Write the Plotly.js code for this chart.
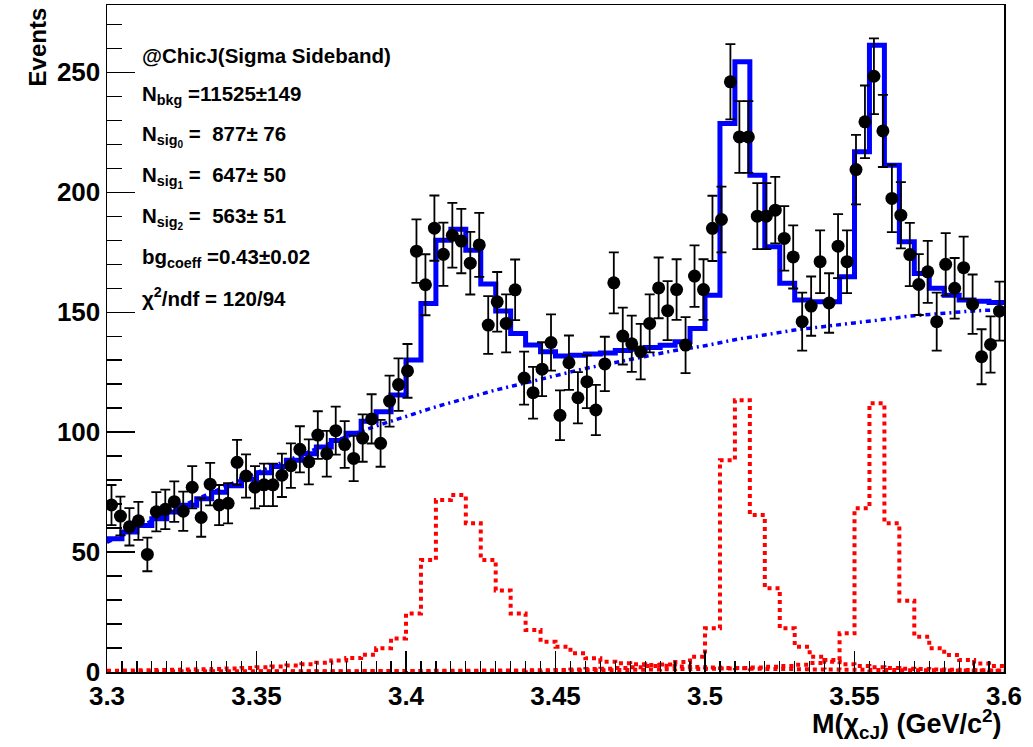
<!DOCTYPE html>
<html>
<head>
<meta charset="utf-8">
<script src="https://cdn.plot.ly/plotly-3.0.1.min.js"></script>
<style>html,body{margin:0;padding:0;background:#fff;}#chart{width:1033px;height:747px;}</style>
</head>
<body>
<div id="chart"></div>
<script>
// ---- Data ----
// Data histogram: 100 bins of 0.003 GeV from 3.3 to 3.6
const dataMin = 3.3, dataBinWidth = 0.003;
const dataCounts = [
  69.6, 65, 60.5, 63, 49, 66.8, 67.8, 71, 67, 77,
  64.4, 78.3, 69.6, 70.3, 87.4, 81.7, 77, 78, 78, 82,
  86, 92.8, 87.6, 98.75, 91, 100.6, 94.8, 89, 97.5, 105.5,
  95.3, 112.9, 119.8, 125.5, 175.4, 161.4, 185, 174.1, 182, 179.6,
  170.4, 178, 144.6, 154.3, 145.3, 159.3, 122.5, 116.4, 126.2, 137.3,
  107, 128.9, 114.3, 121, 109.2, 128.4, 162.2, 140, 136.8, 133.5,
  145.3, 160.1, 150.6, 159.4, 136.25, 165, 159.4, 184.9, 188.6, 246,
  223, 223, 190, 190, 192.5, 180.7, 173, 146, 152.5, 171,
  153.8, 177.5, 171, 209.4, 229.3, 248.3, 225.5, 197.4, 190.4, 174,
  161.5, 166.8, 146, 169.9, 159.9, 168.5, 153.3, 131.4, 136.5, 150.4
];
// Fit curves: drawn as 60-step histograms of 0.005 GeV
const fitMin = 3.3, fitBinWidth = 0.005;
const totalFit = [
  55.5, 58.3, 61.1, 63.9, 66.7, 69.5, 72.2, 74.9, 77.6, 80.3,
  83, 85.7, 88.3, 91, 93.8, 96.5, 99.5, 104.5, 108.5, 115.5,
  130, 153.6, 180, 184.5, 175.8, 161.7, 150.5, 141.1, 136.3, 133.5,
  131.7, 132, 132.5, 133, 134, 134.5, 135.3, 136.2, 137.6, 143.2,
  157, 228.6, 254.3, 207, 177.2, 162, 155, 154.3, 154.3, 164.7,
  216.8, 261.25, 211.25, 179.3, 166.1, 159.9, 157, 155, 154.5, 154
];
const sigChic0 = [
  0.5, 0.6, 0.7, 0.8, 0.9, 1.0, 1.1, 1.3, 1.5, 1.7,
  2.0, 2.3, 2.7, 3.2, 3.9, 4.8, 5.8, 7.2, 9.9, 14,
  24.4, 46.7, 71.7, 73.75, 62, 46.7, 34, 24.4, 17.5, 12.6,
  10.5, 7.8, 5.7, 4.3, 3.6, 3.2, 2.9, 2.6, 2.3, 2.1,
  1.9, 1.7, 1.6, 1.4, 1.3, 1.2, 1.1, 1.05, 1.0, 0.95,
  0.9, 0.85, 0.8, 0.75, 0.7, 0.7, 0.65, 0.6, 0.6, 0.55
];
const sigChic1 = [
  0.2, 0.2, 0.2, 0.2, 0.2, 0.2, 0.2, 0.25, 0.25, 0.25,
  0.3, 0.3, 0.3, 0.3, 0.35, 0.35, 0.35, 0.4, 0.4, 0.4,
  0.45, 0.45, 0.5, 0.5, 0.55, 0.6, 0.6, 0.65, 0.7, 0.75,
  0.8, 1.0, 1.2, 1.4, 1.7, 2.0, 2.5, 3.1, 4.2, 6.4,
  18.2, 88.3, 113.3, 65.4, 34.9, 18.2, 10.5, 6.4, 4.3, 3.2,
  2.5, 2.0, 1.7, 1.4, 1.2, 1.0, 0.9, 0.8, 0.7, 0.6
];
const sigChic2 = [
  0.15, 0.15, 0.15, 0.15, 0.15, 0.15, 0.15, 0.2, 0.2, 0.2,
  0.2, 0.2, 0.2, 0.25, 0.25, 0.25, 0.25, 0.3, 0.3, 0.3,
  0.3, 0.35, 0.35, 0.35, 0.4, 0.4, 0.45, 0.45, 0.5, 0.55,
  0.6, 0.65, 0.7, 0.75, 0.85, 0.9, 1.0, 1.1, 1.2, 1.3,
  1.4, 1.5, 1.7, 1.9, 2.2, 2.5, 3.0, 3.7, 5.0, 16.1,
  68.2, 112, 62, 29.7, 14.7, 9.9, 7.1, 5.0, 3.5, 2.5
];
// Background (smooth curve), sampled every 0.01 GeV
const bkgX = [3.30, 3.31, 3.32, 3.33, 3.34, 3.35, 3.36, 3.37, 3.38, 3.39, 3.40,
              3.41, 3.42, 3.43, 3.44, 3.45, 3.46, 3.47, 3.48, 3.49, 3.50,
              3.51, 3.52, 3.53, 3.54, 3.55, 3.56, 3.57, 3.58, 3.59, 3.60];
const bkgY = [54, 60, 66, 72, 77.5, 83, 88, 93, 98, 102.5, 106.5,
              110.5, 114, 117.5, 120.5, 123.5, 126.5, 129, 131.5, 134, 136,
              138.5, 140.5, 142.5, 144, 145.5, 147, 148.5, 149.5, 150.5, 151];

const xTickVals = [3.3, 3.35, 3.4, 3.45, 3.5, 3.55, 3.6];
const xTickText = ['3.3', '3.35', '3.4', '3.45', '3.5', '3.55', '3.6'];
const yTickVals = [0, 50, 100, 150, 200, 250];
const infoLines = [
  '@ChicJ(Sigma Sideband)',
  'N<sub>bkg</sub> =11525\u00b1149',
  'N<sub>sig<sub>0</sub></sub> =  877\u00b1 76',
  'N<sub>sig<sub>1</sub></sub> =  647\u00b1 50',
  'N<sub>sig<sub>2</sub></sub> =  563\u00b1 51',
  'bg<sub>coeff</sub> =0.43\u00b10.02',
  '\u03c7<sup>2</sup>/ndf = 120/94'
];

// ---- Build traces ----
const dataX = dataCounts.map((_, i) => dataMin + (i + 0.5) * dataBinWidth);
const dataErr = dataCounts.map(v => Math.sqrt(v));
function stepXY(vals) {
  const xs = vals.map((_, i) => fitMin + i * fitBinWidth);
  xs.push(fitMin + vals.length * fitBinWidth);
  const ys = vals.slice(); ys.push(vals[vals.length - 1]);
  return {x: xs, y: ys};
}
const FONT = 'Liberation Sans, Arial, Helvetica, sans-serif';
const traces = [];
[sigChic0, sigChic1, sigChic2].forEach(s => {
  const st = stepXY(s);
  traces.push({x: st.x, y: st.y, mode: 'lines', line: {shape: 'hv', color: 'rgb(255,0,0)', width: 4, dash: '4px,4px'}, hoverinfo: 'skip', showlegend: false});
});
traces.push({x: bkgX, y: bkgY, mode: 'lines', line: {shape: 'spline', color: 'rgb(0,0,255)', width: 3.5, dash: '5px,4px,2px,4px'}, showlegend: false});
const tf = stepXY(totalFit);
traces.push({x: tf.x, y: tf.y, mode: 'lines', line: {shape: 'hv', color: 'rgb(0,0,255)', width: 5}, showlegend: false});
traces.push({x: dataX, y: dataCounts, mode: 'markers', marker: {color: 'black', size: 13, symbol: 'circle'},
  error_y: {type: 'data', array: dataErr, visible: true, color: 'black', thickness: 1.8, width: 5}, showlegend: false});

const annotations = [];
const lineY = [257, 240.4, 223.3, 206.3, 189.2, 172.5, 156.3];
infoLines.forEach((t, i) => {
  annotations.push({x: 3.3109, y: lineY[i], xref: 'x', yref: 'y', text: t, showarrow: false,
    xanchor: 'left', yanchor: 'middle', font: {family: FONT, size: 20.5, color: 'black', weight: 'bold'}});
});
annotations.push({x: -0.077, y: 1.0, xref: 'paper', yref: 'paper', text: 'Events', textangle: -90, showarrow: false,
  xanchor: 'center', yanchor: 'top', font: {family: FONT, size: 24, color: 'black', weight: 'bold'}});
annotations.push({x: 1.0, y: -0.046, xref: 'paper', yref: 'paper', text: 'M(\u03c7<sub>cJ</sub>) (GeV/c<sup>2</sup>)', showarrow: false,
  xanchor: 'right', yanchor: 'top', font: {family: FONT, size: 27, color: 'black', weight: 'bold'}});

const layout = {
  width: 1033, height: 747,
  margin: {l: 107, r: 29, t: 5, b: 75},
  paper_bgcolor: 'white', plot_bgcolor: 'white',
  showlegend: false,
  xaxis: {range: [3.3, 3.6], tickvals: xTickVals, ticktext: xTickText, ticks: 'inside', ticklen: 21, tickwidth: 1.2, tickcolor: 'black',
    minor: {dtick: 0.005, tick0: 3.3, ticks: 'inside', ticklen: 11, tickwidth: 1.2, tickcolor: 'black', showgrid: false},
    showgrid: false, zeroline: false, showline: true, mirror: true, linecolor: 'black', linewidth: 1.5,
    tickfont: {family: FONT, size: 26, color: 'black', weight: 'bold'}},
  yaxis: {range: [0, 278], tickvals: yTickVals, ticks: 'inside', ticklen: 28, tickwidth: 1.2, tickcolor: 'black',
    minor: {dtick: 10, tick0: 0, ticks: 'inside', ticklen: 15, tickwidth: 1.2, tickcolor: 'black', showgrid: false},
    showgrid: false, zeroline: false, showline: true, mirror: true, linecolor: 'black', linewidth: 1.5,
    tickfont: {family: FONT, size: 26, color: 'black', weight: 'bold'}},
  annotations: annotations
};
Plotly.newPlot('chart', traces, layout, {staticPlot: true, displayModeBar: false});
</script>
</body>
</html>
